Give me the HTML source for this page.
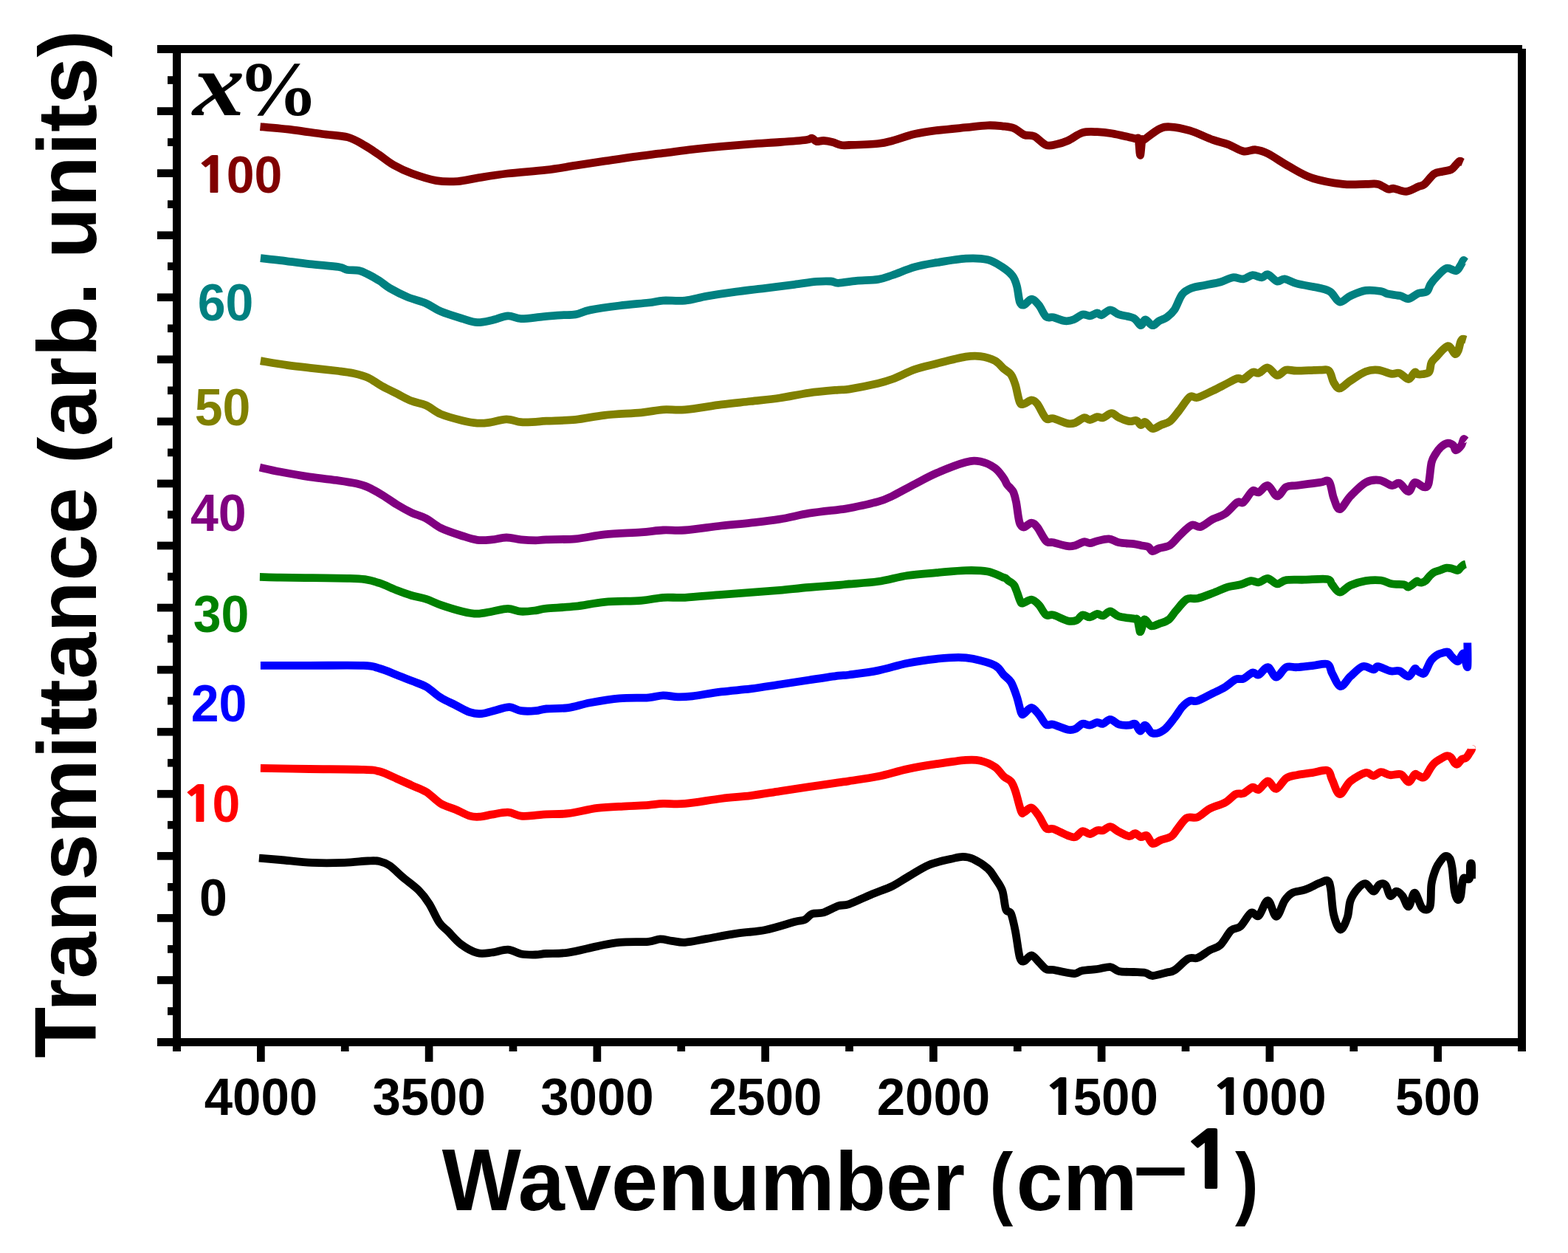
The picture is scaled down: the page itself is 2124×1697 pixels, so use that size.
<!DOCTYPE html>
<html><head><meta charset="utf-8"><title>FTIR spectra</title>
<style>html,body{margin:0;padding:0;background:#fff;}svg{display:block;}</style></head>
<body><svg width="2124" height="1697" viewBox="0 0 2124 1697">
<rect width="2124" height="1697" fill="#fff"/>
<g fill="#000">
<rect x="213" y="61" width="1849" height="11"/>
<rect x="234" y="61" width="11" height="1363"/>
<rect x="2056" y="66" width="11" height="1358"/>
<rect x="213" y="1406" width="1854" height="11"/>
<rect x="213" y="145.21" width="22" height="10.7"/>
<rect x="213" y="229.28" width="22" height="10.7"/>
<rect x="213" y="313.34" width="22" height="10.7"/>
<rect x="213" y="397.40" width="22" height="10.7"/>
<rect x="213" y="481.46" width="22" height="10.7"/>
<rect x="213" y="565.52" width="22" height="10.7"/>
<rect x="213" y="649.59" width="22" height="10.7"/>
<rect x="213" y="733.65" width="22" height="10.7"/>
<rect x="213" y="817.71" width="22" height="10.7"/>
<rect x="213" y="901.77" width="22" height="10.7"/>
<rect x="213" y="985.84" width="22" height="10.7"/>
<rect x="213" y="1069.90" width="22" height="10.7"/>
<rect x="213" y="1153.96" width="22" height="10.7"/>
<rect x="213" y="1238.03" width="22" height="10.7"/>
<rect x="213" y="1322.09" width="22" height="10.7"/>
<rect x="227" y="103.18" width="8" height="10.7"/>
<rect x="227" y="187.24" width="8" height="10.7"/>
<rect x="227" y="271.31" width="8" height="10.7"/>
<rect x="227" y="355.37" width="8" height="10.7"/>
<rect x="227" y="439.43" width="8" height="10.7"/>
<rect x="227" y="523.49" width="8" height="10.7"/>
<rect x="227" y="607.56" width="8" height="10.7"/>
<rect x="227" y="691.62" width="8" height="10.7"/>
<rect x="227" y="775.68" width="8" height="10.7"/>
<rect x="227" y="859.74" width="8" height="10.7"/>
<rect x="227" y="943.81" width="8" height="10.7"/>
<rect x="227" y="1027.87" width="8" height="10.7"/>
<rect x="227" y="1111.93" width="8" height="10.7"/>
<rect x="227" y="1195.99" width="8" height="10.7"/>
<rect x="227" y="1280.06" width="8" height="10.7"/>
<rect x="227" y="1364.12" width="8" height="10.7"/>
<rect x="348.02" y="1416" width="10.7" height="22"/>
<rect x="575.77" y="1416" width="10.7" height="22"/>
<rect x="803.52" y="1416" width="10.7" height="22"/>
<rect x="1031.28" y="1416" width="10.7" height="22"/>
<rect x="1259.03" y="1416" width="10.7" height="22"/>
<rect x="1486.78" y="1416" width="10.7" height="22"/>
<rect x="1714.53" y="1416" width="10.7" height="22"/>
<rect x="1942.28" y="1416" width="10.7" height="22"/>
<rect x="461.90" y="1416" width="10.7" height="8"/>
<rect x="689.65" y="1416" width="10.7" height="8"/>
<rect x="917.40" y="1416" width="10.7" height="8"/>
<rect x="1145.15" y="1416" width="10.7" height="8"/>
<rect x="1372.90" y="1416" width="10.7" height="8"/>
<rect x="1600.65" y="1416" width="10.7" height="8"/>
<rect x="1828.40" y="1416" width="10.7" height="8"/>
</g>
<text transform="translate(353.38,1510) scale(1,1.03)" text-anchor="middle" font-family="Liberation Sans, Arial, sans-serif" font-weight="bold" font-size="69">4000</text>
<text transform="translate(581.12,1510) scale(1,1.03)" text-anchor="middle" font-family="Liberation Sans, Arial, sans-serif" font-weight="bold" font-size="69">3500</text>
<text transform="translate(808.88,1510) scale(1,1.03)" text-anchor="middle" font-family="Liberation Sans, Arial, sans-serif" font-weight="bold" font-size="69">3000</text>
<text transform="translate(1036.62,1510) scale(1,1.03)" text-anchor="middle" font-family="Liberation Sans, Arial, sans-serif" font-weight="bold" font-size="69">2500</text>
<text transform="translate(1264.38,1510) scale(1,1.03)" text-anchor="middle" font-family="Liberation Sans, Arial, sans-serif" font-weight="bold" font-size="69">2000</text>
<text transform="translate(1453.75,1510) scale(1,1.03)" font-family="Liberation Sans, Arial, sans-serif" font-weight="bold" font-size="69">500</text>
<text transform="translate(1413.34,1510) scale(1.222,1.000)" fill="#000" font-family="NanumGothic, Liberation Sans, sans-serif" font-weight="800" font-size="65">1</text>
<text transform="translate(1681.50,1510) scale(1,1.03)" font-family="Liberation Sans, Arial, sans-serif" font-weight="bold" font-size="69">000</text>
<text transform="translate(1640.34,1510) scale(1.222,1.000)" fill="#000" font-family="NanumGothic, Liberation Sans, sans-serif" font-weight="800" font-size="65">1</text>
<text transform="translate(1947.62,1510) scale(1,1.03)" text-anchor="middle" font-family="Liberation Sans, Arial, sans-serif" font-weight="bold" font-size="69">500</text>
<text transform="translate(306.71,260.5) scale(1,1.04)" fill="#800000" font-family="Liberation Sans, Arial, sans-serif" font-weight="bold" font-size="68">00</text>
<text transform="translate(264.34,260.5) scale(1.222,1.000)" fill="#800000" font-family="NanumGothic, Liberation Sans, sans-serif" font-weight="800" font-size="65">1</text>
<text transform="translate(267.70,433.5) scale(1,1.04)" fill="#008080" font-family="Liberation Sans, Arial, sans-serif" font-weight="bold" font-size="68">60</text>
<text transform="translate(263.80,575.5) scale(1,1.04)" fill="#808000" font-family="Liberation Sans, Arial, sans-serif" font-weight="bold" font-size="68">50</text>
<text transform="translate(257.90,718.5) scale(1,1.04)" fill="#800080" font-family="Liberation Sans, Arial, sans-serif" font-weight="bold" font-size="68">40</text>
<text transform="translate(261.80,856) scale(1,1.04)" fill="#008000" font-family="Liberation Sans, Arial, sans-serif" font-weight="bold" font-size="68">30</text>
<text transform="translate(258.80,977) scale(1,1.04)" fill="#0000FF" font-family="Liberation Sans, Arial, sans-serif" font-weight="bold" font-size="68">20</text>
<text transform="translate(287.61,1112.5) scale(1,1.04)" fill="#FF0000" font-family="Liberation Sans, Arial, sans-serif" font-weight="bold" font-size="68">0</text>
<text transform="translate(245.24,1112.5) scale(1.222,1.000)" fill="#FF0000" font-family="NanumGothic, Liberation Sans, sans-serif" font-weight="800" font-size="65">1</text>
<text transform="translate(270.00,1239.5) scale(1,1.04)" fill="#000000" font-family="Liberation Sans, Arial, sans-serif" font-weight="bold" font-size="68">0</text>
<text transform="translate(260.95,155.8) scale(1.153,1)" font-family="Liberation Serif, Times New Roman, serif" font-weight="bold" font-style="italic" font-size="122">x</text>
<text transform="translate(322.37,155.5) scale(1.048,1)" font-family="Liberation Serif, Times New Roman, serif" font-weight="bold" font-size="104">%</text>
<text transform="translate(598.8,1639) scale(1,1.045)" font-family="Liberation Sans, Arial, sans-serif" font-weight="bold" font-size="113.5">W</text>
<text x="701.71" y="1639" font-family="Liberation Sans, Arial, sans-serif" font-weight="bold" font-size="113.5">avenumber</text>
<text transform="translate(1340.55,1637.5) scale(0.87,1)" font-family="Liberation Sans, Arial, sans-serif" font-weight="bold" font-size="109.5">(</text>
<text x="1376.61" y="1639" font-family="Liberation Sans, Arial, sans-serif" font-weight="bold" font-size="113.5">cm</text>
<text transform="translate(1535.54,1616.34) scale(1.154,0.945)" font-family="Liberation Sans, Arial, sans-serif" font-weight="bold" font-size="114">&#8211;</text>
<text transform="translate(1599.80,1610) scale(1.200,1.000)" font-family="NanumGothic, Liberation Sans, sans-serif" font-weight="800" font-size="105">1</text>
<text transform="translate(1673.10,1638) scale(0.87,1)" font-family="Liberation Sans, Arial, sans-serif" font-weight="bold" font-size="109.5">)</text>
<text transform="translate(130,1433) rotate(-90) scale(1,1.045)" font-family="Liberation Sans, Arial, sans-serif" font-weight="bold" font-size="113.5">T</text>
<text transform="translate(130,1369.94) rotate(-90)" textLength="1328.9" lengthAdjust="spacing" font-family="Liberation Sans, Arial, sans-serif" font-weight="bold" font-size="113.5">ransmittance <tspan font-size="109.5" dy="-1.2">(</tspan><tspan dy="1.2">arb. units</tspan><tspan font-size="109.5" dy="-1.2">)</tspan></text>
<path d="M352.5,171.6 C360.1,172.3 383.9,174.4 397.9,176.1 C411.9,177.8 424.3,179.9 436.5,181.5 C448.7,183.1 461.7,183.3 471.3,185.9 C480.9,188.5 487.3,193.3 494.4,197.3 C501.5,201.3 507.3,205.5 513.7,209.8 C520.1,214.2 525.6,219.2 533.0,223.4 C540.4,227.6 548.4,231.5 558.1,235.0 C567.8,238.5 580.7,242.8 591.0,244.6 C601.3,246.4 610.4,246.2 620.0,245.6 C629.6,244.9 637.6,242.5 648.9,240.7 C660.1,238.9 672.3,236.8 687.5,235.0 C702.7,233.2 724.7,231.9 740.0,230.1 C755.3,228.3 766.3,226.2 779.5,224.2 C792.7,222.2 805.9,220.2 819.1,218.2 C832.3,216.2 845.4,214.1 858.6,212.3 C871.8,210.5 885.0,209.0 898.2,207.3 C911.4,205.7 924.5,203.9 937.7,202.4 C950.9,200.9 964.1,199.6 977.3,198.4 C990.5,197.2 1003.6,196.1 1016.8,195.1 C1030.0,194.1 1043.9,193.4 1056.4,192.5 C1068.9,191.6 1084.8,190.4 1092.0,189.5 C1099.2,188.6 1097.6,186.9 1099.9,187.2 C1102.2,187.5 1103.2,190.9 1105.8,191.5 C1108.4,192.1 1112.1,190.3 1115.7,190.5 C1119.3,190.7 1123.6,191.5 1127.6,192.5 C1131.5,193.5 1135.7,195.8 1139.4,196.5 C1143.1,197.2 1141.7,196.8 1150.0,196.5 C1158.3,196.2 1179.6,195.5 1189.5,194.5 C1199.4,193.5 1201.0,192.7 1209.3,190.5 C1217.5,188.3 1229.1,183.9 1239.0,181.6 C1248.9,179.3 1257.1,178.2 1268.6,176.7 C1280.1,175.2 1296.7,173.8 1308.2,172.7 C1319.8,171.5 1329.7,170.1 1337.9,169.8 C1346.1,169.5 1351.7,170.2 1357.6,170.8 C1363.5,171.5 1368.5,171.7 1373.5,173.7 C1378.5,175.7 1382.7,180.8 1387.3,182.6 C1391.9,184.4 1396.1,182.3 1401.1,184.6 C1406.0,186.9 1412.0,194.7 1417.0,196.5 C1422.0,198.3 1425.9,196.5 1430.8,195.5 C1435.7,194.5 1440.7,193.1 1446.6,190.5 C1452.5,187.9 1459.8,181.7 1466.4,179.7 C1473.0,177.7 1479.6,178.5 1486.2,178.7 C1492.8,178.9 1497.4,179.2 1506.0,180.7 C1514.6,182.2 1531.6,186.3 1537.6,187.6 C1543.6,188.9 1540.8,184.7 1542.0,188.5 C1543.2,192.3 1543.7,210.1 1544.5,210.3 C1545.3,210.5 1546.2,193.0 1547.0,189.5 C1547.8,186.0 1545.6,191.9 1549.4,189.5 C1553.2,187.1 1564.1,177.8 1570.0,174.9 C1575.9,172.0 1577.9,171.5 1584.9,171.8 C1591.9,172.1 1602.1,174.0 1611.8,176.9 C1621.5,179.8 1634.3,186.3 1642.9,189.4 C1651.5,192.5 1656.7,193.0 1663.6,195.6 C1670.5,198.2 1678.1,203.7 1684.3,204.9 C1690.5,206.1 1695.4,202.3 1700.9,202.8 C1706.4,203.3 1709.8,204.2 1717.4,208.0 C1725.0,211.8 1736.5,220.1 1746.5,225.6 C1756.5,231.1 1765.4,237.2 1777.5,241.2 C1789.6,245.2 1806.9,248.0 1819.0,249.4 C1831.1,250.8 1842.1,249.4 1850.0,249.4 C1857.9,249.4 1861.6,248.3 1866.6,249.4 C1871.6,250.5 1876.4,255.1 1880.0,256.1 C1883.6,257.1 1884.2,254.8 1888.3,255.3 C1892.4,255.8 1899.3,259.8 1904.8,259.4 C1910.3,259.0 1917.2,254.5 1921.3,252.8 C1925.4,251.2 1925.9,252.4 1929.5,249.5 C1933.1,246.6 1938.6,238.4 1942.7,235.5 C1946.8,232.6 1950.5,233.2 1954.3,232.2 C1958.1,231.2 1962.8,231.2 1965.8,229.7 C1968.8,228.2 1970.5,225.0 1972.4,223.1 C1974.3,221.2 1975.9,218.7 1977.4,218.2 C1978.9,217.7 1980.8,219.7 1981.5,220.0" fill="none" stroke="#800000" stroke-width="10.8" stroke-linejoin="round" stroke-linecap="butt"/>
<path d="M352.9,349.7 C357.3,350.2 368.5,351.3 379.5,352.6 C390.5,353.9 405.9,356.1 419.1,357.6 C432.3,359.1 450.0,360.2 458.6,361.5 C467.2,362.8 465.9,364.7 470.5,365.5 C475.1,366.3 481.7,365.5 486.3,366.5 C490.9,367.5 493.6,369.1 498.2,371.4 C502.8,373.7 509.1,377.2 514.0,380.3 C519.0,383.4 521.6,386.6 527.9,390.2 C534.2,393.8 543.4,398.6 551.6,402.1 C559.8,405.6 569.7,407.7 577.3,411.0 C584.9,414.3 588.9,418.4 597.1,421.8 C605.3,425.2 618.5,429.2 626.7,431.7 C634.9,434.2 639.9,436.4 646.5,436.7 C653.1,437.0 659.4,435.2 666.3,433.7 C673.2,432.2 681.4,428.1 688.0,427.8 C694.6,427.5 697.9,431.5 705.8,431.7 C713.7,431.9 726.5,429.6 735.5,428.8 C744.5,428.0 752.7,427.3 760.0,426.8 C767.3,426.3 773.0,427.0 779.5,425.9 C786.0,424.8 789.4,421.9 799.3,419.9 C809.2,417.9 825.7,415.6 838.9,414.0 C852.1,412.4 868.5,411.1 878.4,410.0 C888.3,408.9 890.0,407.6 898.2,407.1 C906.5,406.6 918.0,408.1 927.9,407.1 C937.8,406.1 946.0,403.1 957.5,401.1 C969.0,399.1 983.9,397.0 997.1,395.2 C1010.3,393.4 1023.4,391.9 1036.6,390.3 C1049.8,388.7 1064.7,386.8 1076.2,385.3 C1087.7,383.8 1097.6,382.1 1105.8,381.4 C1114.0,380.7 1120.6,380.7 1125.6,381.0 C1130.5,381.3 1129.8,383.4 1135.5,383.3 C1141.2,383.2 1151.0,381.2 1160.0,380.4 C1169.0,379.6 1181.3,379.7 1189.5,378.4 C1197.7,377.1 1201.0,375.3 1209.3,372.5 C1217.5,369.7 1229.1,364.4 1239.0,361.6 C1248.9,358.8 1257.1,357.6 1268.6,355.7 C1280.1,353.8 1296.7,350.8 1308.2,350.1 C1319.8,349.4 1329.7,349.8 1337.9,351.7 C1346.1,353.6 1352.0,358.0 1357.6,361.6 C1363.2,365.2 1368.2,369.2 1371.5,373.5 C1374.8,377.8 1375.8,381.4 1377.4,387.3 C1379.1,393.2 1379.8,404.7 1381.4,409.0 C1383.1,413.3 1384.7,413.6 1387.3,413.0 C1389.9,412.4 1393.9,405.1 1397.2,405.1 C1400.5,405.1 1403.8,409.1 1407.1,413.0 C1410.4,416.9 1413.7,426.0 1417.0,428.8 C1420.3,431.6 1422.5,428.8 1426.8,429.8 C1431.1,430.8 1438.1,434.2 1442.7,434.7 C1447.3,435.2 1450.5,434.3 1454.5,432.8 C1458.5,431.3 1462.8,426.7 1466.4,425.9 C1470.0,425.1 1473.0,428.1 1476.3,427.8 C1479.6,427.5 1483.6,424.1 1486.2,423.9 C1488.8,423.7 1489.1,427.5 1492.1,426.8 C1495.1,426.1 1500.0,420.0 1504.0,419.9 C1508.0,419.8 1510.5,424.1 1515.8,425.9 C1521.1,427.7 1530.6,428.3 1535.6,430.8 C1540.5,433.3 1542.9,440.4 1545.5,440.7 C1548.1,441.0 1548.8,432.8 1551.4,432.8 C1554.0,432.8 1558.2,440.4 1561.3,440.7 C1564.4,441.0 1566.8,436.5 1570.0,434.7 C1573.2,432.9 1577.2,432.3 1580.7,429.7 C1584.2,427.1 1587.6,424.5 1591.1,419.3 C1594.5,414.1 1597.6,403.4 1601.4,398.6 C1605.2,393.8 1608.7,392.4 1613.9,390.3 C1619.1,388.2 1626.0,387.6 1632.5,386.2 C1639.0,384.8 1647.0,383.7 1653.2,382.0 C1659.4,380.3 1664.6,376.5 1669.8,375.8 C1675.0,375.1 1679.8,378.4 1684.3,377.9 C1688.8,377.4 1692.5,373.0 1696.7,372.7 C1700.9,372.4 1705.8,376.0 1709.2,375.8 C1712.7,375.6 1714.0,370.8 1717.4,371.7 C1720.9,372.6 1726.1,380.0 1729.9,381.0 C1733.7,382.0 1735.7,377.4 1740.2,377.9 C1744.7,378.4 1748.8,382.0 1756.8,384.1 C1764.8,386.2 1780.3,388.4 1787.9,390.3 C1795.5,392.2 1797.9,392.4 1802.4,395.5 C1806.9,398.6 1810.3,408.1 1814.8,409.0 C1819.3,409.9 1823.4,403.3 1829.3,400.7 C1835.2,398.1 1843.1,394.4 1850.0,393.4 C1856.9,392.4 1865.7,393.7 1870.7,394.5 C1875.7,395.3 1875.7,397.1 1880.0,398.1 C1884.3,399.1 1891.8,399.5 1896.5,400.6 C1901.2,401.7 1904.0,405.2 1908.1,404.7 C1912.2,404.1 1917.2,398.9 1921.3,397.3 C1925.4,395.7 1930.0,396.9 1932.8,394.8 C1935.5,392.7 1935.6,388.2 1937.8,384.9 C1940.0,381.6 1942.4,378.6 1946.0,375.0 C1949.6,371.4 1954.8,364.8 1959.2,363.4 C1963.6,362.0 1969.1,367.5 1972.4,366.7 C1975.7,365.9 1977.3,360.9 1979.0,358.5 C1980.7,356.1 1981.2,353.1 1982.3,352.5 C1983.4,351.9 1985.0,354.8 1985.6,355.2" fill="none" stroke="#008080" stroke-width="10.8" stroke-linejoin="round" stroke-linecap="butt"/>
<path d="M352.9,488.7 C359.0,489.7 377.7,493.0 389.4,494.6 C401.1,496.2 411.5,497.3 423.0,498.6 C434.5,499.9 449.4,501.4 458.6,502.5 C467.8,503.6 471.8,504.0 478.4,505.5 C485.0,507.0 491.6,508.4 498.2,511.4 C504.8,514.4 511.4,519.7 518.0,523.3 C524.6,526.9 531.1,529.9 537.7,533.2 C544.3,536.5 550.9,540.5 557.5,543.1 C564.1,545.7 570.7,546.0 577.3,549.0 C583.9,552.0 588.9,557.4 597.1,560.9 C605.3,564.4 618.5,567.7 626.7,569.7 C634.9,571.7 640.6,572.7 646.5,573.1 C652.4,573.5 655.7,573.2 662.3,572.3 C668.9,571.4 678.8,567.9 686.0,567.8 C693.2,567.7 699.2,571.1 705.8,571.7 C712.4,572.3 719.9,571.5 725.6,571.3 C731.3,571.0 731.0,570.7 740.0,570.2 C749.0,569.7 766.3,569.6 779.5,568.3 C792.7,567.0 804.3,563.9 819.1,562.3 C833.9,560.7 855.3,560.0 868.5,558.8 C881.7,557.5 888.3,555.5 898.2,554.8 C908.1,554.1 914.7,555.9 927.9,554.8 C941.1,553.6 962.5,549.8 977.3,547.9 C992.1,546.0 1003.6,545.0 1016.8,543.5 C1030.0,542.0 1043.2,540.9 1056.4,539.0 C1069.6,537.1 1082.7,533.9 1095.9,532.1 C1109.1,530.3 1126.5,528.9 1135.5,528.1 C1144.5,527.3 1141.0,528.6 1150.0,527.1 C1159.0,525.6 1179.6,521.5 1189.5,519.2 C1199.4,516.9 1201.0,516.4 1209.3,513.3 C1217.5,510.2 1229.1,503.9 1239.0,500.4 C1248.9,496.9 1257.1,495.4 1268.6,492.5 C1280.1,489.6 1298.3,484.8 1308.2,483.2 C1318.1,481.6 1321.4,481.7 1328.0,482.6 C1334.6,483.5 1342.4,485.8 1347.7,488.6 C1353.0,491.4 1356.0,496.3 1359.6,499.4 C1363.2,502.5 1366.9,503.7 1369.5,507.3 C1372.1,510.9 1373.4,514.9 1375.4,521.2 C1377.4,527.5 1379.4,540.6 1381.4,544.9 C1383.4,549.2 1384.7,547.4 1387.3,546.9 C1389.9,546.4 1394.2,542.0 1397.2,542.0 C1400.2,542.0 1401.8,542.8 1405.1,546.9 C1408.4,551.0 1413.4,563.4 1417.0,566.7 C1420.6,570.0 1421.9,565.6 1426.8,566.7 C1431.7,567.9 1441.6,572.6 1446.6,573.6 C1451.5,574.6 1452.9,573.9 1456.5,572.6 C1460.1,571.3 1465.1,566.4 1468.4,565.7 C1471.7,565.0 1473.3,568.8 1476.3,568.6 C1479.3,568.4 1483.2,565.2 1486.2,564.7 C1489.2,564.2 1490.8,566.5 1494.1,565.7 C1497.4,564.9 1502.3,559.7 1505.9,559.7 C1509.5,559.7 1511.8,563.9 1515.8,565.7 C1519.8,567.5 1525.7,570.0 1529.7,570.6 C1533.7,571.2 1537.0,568.8 1539.6,569.6 C1542.2,570.4 1543.5,575.3 1545.5,575.6 C1547.5,575.9 1548.8,570.8 1551.4,571.6 C1554.0,572.4 1557.8,579.8 1561.3,580.5 C1564.8,581.2 1568.5,577.4 1572.4,575.7 C1576.3,574.0 1580.8,573.8 1584.9,570.5 C1589.1,567.2 1592.8,561.5 1597.3,556.0 C1601.8,550.5 1607.6,540.3 1611.8,537.4 C1616.0,534.5 1617.0,539.8 1622.2,538.4 C1627.4,537.0 1636.7,532.0 1642.9,529.1 C1649.1,526.2 1653.9,523.6 1659.4,520.8 C1664.9,518.0 1671.8,513.7 1676.0,512.5 C1680.2,511.3 1680.8,514.9 1684.3,513.5 C1687.8,512.1 1693.2,505.6 1696.7,504.2 C1700.2,502.8 1701.5,506.3 1705.0,505.3 C1708.5,504.3 1713.2,497.5 1717.4,498.0 C1721.6,498.5 1725.8,507.9 1729.9,508.4 C1734.1,508.9 1737.8,502.1 1742.3,501.1 C1746.8,500.1 1749.2,502.2 1756.8,502.2 C1764.4,502.2 1780.7,501.1 1787.9,501.1 C1795.2,501.1 1797.2,499.4 1800.3,502.2 C1803.4,505.0 1804.1,513.7 1806.5,517.7 C1808.9,521.7 1811.0,526.4 1814.8,526.0 C1818.6,525.6 1823.4,519.4 1829.3,515.6 C1835.2,511.8 1843.8,505.6 1850.0,503.2 C1856.2,500.8 1860.7,500.6 1866.6,501.1 C1872.5,501.6 1880.5,505.6 1885.3,506.3 C1890.1,507.0 1891.8,504.1 1895.6,505.3 C1899.4,506.5 1904.5,513.7 1908.0,513.5 C1911.5,513.3 1914.3,505.3 1916.3,504.2 C1918.3,503.1 1918.3,506.4 1920.0,506.8 C1921.7,507.2 1923.8,507.3 1926.4,506.8 C1929.1,506.3 1933.8,506.4 1935.9,503.7 C1938.0,501.0 1937.3,494.4 1939.1,490.9 C1940.9,487.3 1944.0,485.2 1946.5,482.4 C1949.0,479.6 1951.5,476.3 1954.0,474.0 C1956.5,471.7 1959.5,469.0 1961.4,468.6 C1963.3,468.2 1964.0,470.0 1965.6,471.8 C1967.2,473.6 1969.3,479.0 1970.9,479.5 C1972.5,480.0 1974.0,477.7 1975.2,475.0 C1976.5,472.3 1977.4,465.9 1978.4,463.3 C1979.5,460.7 1980.3,459.6 1981.5,459.1 C1982.7,458.6 1985.1,460.0 1985.8,460.2" fill="none" stroke="#808000" stroke-width="10.8" stroke-linejoin="round" stroke-linecap="butt"/>
<path d="M351.9,633.0 C356.5,634.0 368.3,636.9 379.5,639.0 C390.7,641.1 405.9,643.9 419.1,645.9 C432.3,647.9 448.1,649.3 458.6,650.8 C469.2,652.3 475.8,653.3 482.4,654.8 C489.0,656.3 492.3,657.1 498.2,659.7 C504.1,662.3 511.4,666.6 518.0,670.6 C524.6,674.6 531.1,679.5 537.7,683.5 C544.3,687.5 550.9,691.2 557.5,694.3 C564.1,697.4 570.7,698.7 577.3,702.2 C583.9,705.7 588.9,711.1 597.1,715.1 C605.3,719.1 618.5,723.3 626.7,726.0 C634.9,728.7 639.9,730.5 646.5,731.3 C653.1,732.1 659.7,731.4 666.3,730.9 C672.9,730.4 679.4,728.0 686.0,728.0 C692.6,728.0 699.2,730.2 705.8,730.9 C712.4,731.5 719.9,731.9 725.6,731.9 C731.3,731.9 731.0,731.1 740.0,730.8 C749.0,730.4 766.3,730.9 779.5,729.8 C792.7,728.6 804.3,725.4 819.1,723.9 C833.9,722.4 855.3,721.9 868.5,720.9 C881.7,719.9 888.3,718.5 898.2,718.0 C908.1,717.5 914.7,719.0 927.9,718.0 C941.1,717.0 962.5,713.6 977.3,712.0 C992.1,710.4 1003.6,709.6 1016.8,708.1 C1030.0,706.6 1043.2,705.2 1056.4,703.1 C1069.6,701.0 1082.7,697.3 1095.9,695.2 C1109.1,693.1 1126.5,691.4 1135.5,690.3 C1144.5,689.1 1141.0,690.1 1150.0,688.3 C1159.0,686.5 1179.6,682.2 1189.5,679.4 C1199.4,676.6 1201.0,675.5 1209.3,671.5 C1217.5,667.5 1229.1,660.8 1239.0,655.7 C1248.9,650.6 1257.1,645.8 1268.6,640.8 C1280.1,635.8 1298.3,628.6 1308.2,626.0 C1318.1,623.4 1321.4,623.7 1328.0,625.0 C1334.6,626.3 1342.4,630.1 1347.7,633.9 C1353.0,637.7 1356.9,644.0 1359.6,647.7 C1362.3,651.4 1362.4,653.7 1364.0,656.0 C1365.6,658.3 1367.5,659.7 1369.0,661.5 C1370.5,663.3 1371.8,663.9 1373.0,667.0 C1374.2,670.1 1375.4,674.5 1376.5,680.0 C1377.6,685.5 1378.6,695.0 1379.5,700.0 C1380.4,705.0 1380.7,707.7 1382.0,710.0 C1383.3,712.3 1384.8,714.3 1387.3,714.0 C1389.8,713.7 1394.2,708.1 1397.2,708.1 C1400.2,708.1 1401.8,709.9 1405.1,714.0 C1408.4,718.1 1413.4,729.3 1417.0,732.8 C1420.6,736.3 1421.9,733.6 1426.8,734.8 C1431.7,735.9 1441.6,739.1 1446.6,739.7 C1451.5,740.4 1452.9,739.7 1456.5,738.7 C1460.1,737.7 1465.1,734.3 1468.4,733.8 C1471.7,733.3 1473.3,735.9 1476.3,735.7 C1479.3,735.5 1481.9,733.8 1486.2,732.8 C1490.5,731.8 1497.1,729.5 1502.0,729.8 C1506.9,730.1 1510.2,733.6 1515.8,734.8 C1521.4,735.9 1530.6,736.1 1535.6,736.7 C1540.5,737.4 1542.2,738.0 1545.5,738.7 C1548.8,739.4 1552.8,739.4 1555.4,740.7 C1558.0,742.0 1558.9,746.3 1561.3,746.6 C1563.7,746.9 1566.1,744.1 1570.0,742.7 C1573.9,741.3 1580.4,741.1 1584.9,738.3 C1589.5,735.5 1592.5,730.4 1597.3,725.9 C1602.1,721.4 1609.1,713.5 1613.9,711.4 C1618.7,709.3 1621.5,714.9 1626.3,713.5 C1631.1,712.1 1637.4,706.0 1642.9,703.1 C1648.4,700.2 1653.9,699.7 1659.4,695.9 C1664.9,692.1 1671.8,682.9 1676.0,680.3 C1680.2,677.7 1680.8,682.9 1684.3,680.3 C1687.8,677.7 1693.2,667.0 1696.7,664.8 C1700.2,662.5 1701.5,668.0 1705.0,666.8 C1708.5,665.6 1713.2,656.6 1717.4,657.5 C1721.6,658.4 1725.8,671.6 1729.9,672.0 C1734.1,672.4 1737.8,662.0 1742.3,659.6 C1746.8,657.2 1749.2,658.5 1756.8,657.5 C1764.4,656.5 1780.7,654.3 1787.9,653.4 C1795.2,652.5 1797.2,648.8 1800.3,652.3 C1803.4,655.8 1804.1,667.9 1806.5,674.1 C1808.9,680.3 1811.0,690.0 1814.8,689.6 C1818.6,689.2 1823.4,678.0 1829.3,672.0 C1835.2,666.0 1843.4,657.0 1850.0,653.4 C1856.6,649.8 1862.8,649.6 1868.7,650.3 C1874.6,651.0 1880.8,656.8 1885.3,657.5 C1889.8,658.2 1891.8,653.0 1895.6,654.4 C1899.4,655.8 1904.5,666.0 1908.0,665.8 C1911.5,665.6 1912.8,654.4 1916.3,653.4 C1919.8,652.4 1925.7,659.2 1928.8,659.6 C1931.9,660.0 1933.3,661.0 1935.0,655.5 C1936.7,650.0 1937.5,633.2 1939.1,626.5 C1940.7,619.8 1942.3,618.6 1944.4,615.1 C1946.5,611.6 1949.0,608.0 1951.8,605.5 C1954.6,603.0 1958.6,600.6 1961.4,600.2 C1964.2,599.9 1967.0,601.8 1968.8,603.4 C1970.6,605.0 1970.2,609.8 1972.0,609.8 C1973.8,609.8 1977.6,605.9 1979.4,603.4 C1981.2,600.9 1981.5,596.0 1982.6,594.9 C1983.7,593.8 1985.3,596.6 1985.8,597.0" fill="none" stroke="#800080" stroke-width="10.8" stroke-linejoin="round" stroke-linecap="butt"/>
<path d="M351.9,781.4 C356.5,781.5 367.6,781.9 379.5,782.1 C391.4,782.3 407.8,782.5 423.0,782.7 C438.2,782.9 458.6,783.0 470.5,783.3 C482.4,783.6 486.9,783.6 494.2,784.7 C501.4,785.8 506.8,787.2 514.0,789.7 C521.2,792.2 530.5,796.7 537.7,799.5 C545.0,802.3 550.9,804.5 557.5,806.5 C564.1,808.5 570.7,809.3 577.3,811.4 C583.9,813.5 588.9,816.5 597.1,819.3 C605.3,822.1 618.5,826.2 626.7,828.2 C634.9,830.2 639.9,831.2 646.5,831.2 C653.1,831.2 659.4,829.4 666.3,828.2 C673.2,827.1 681.4,824.3 688.0,824.3 C694.6,824.3 699.5,827.8 705.8,828.2 C712.1,828.6 719.9,827.5 725.6,826.8 C731.3,826.1 731.0,825.1 740.0,824.2 C749.0,823.3 766.3,822.7 779.5,821.2 C792.7,819.7 804.3,816.6 819.1,815.3 C833.9,814.0 855.3,814.3 868.5,813.3 C881.7,812.3 888.3,810.0 898.2,809.3 C908.1,808.6 914.7,809.9 927.9,809.3 C941.1,808.6 962.5,806.5 977.3,805.4 C992.1,804.2 1003.6,803.4 1016.8,802.4 C1030.0,801.4 1043.2,800.5 1056.4,799.4 C1069.6,798.2 1082.7,796.6 1095.9,795.5 C1109.1,794.4 1126.5,793.2 1135.5,792.5 C1144.5,791.8 1141.0,791.8 1150.0,791.0 C1159.0,790.2 1176.3,789.4 1189.5,787.5 C1202.7,785.6 1215.9,781.5 1229.1,779.5 C1242.3,777.5 1255.4,776.8 1268.6,775.6 C1281.8,774.5 1296.7,772.9 1308.2,772.6 C1319.8,772.3 1329.7,772.5 1337.9,774.0 C1346.1,775.5 1354.3,780.2 1357.6,781.5 C1360.9,782.8 1356.9,781.2 1357.6,781.5 C1358.3,781.8 1360.6,782.2 1362.0,783.0 C1363.4,783.8 1364.7,785.5 1366.0,786.5 C1367.3,787.5 1368.7,787.9 1370.0,789.0 C1371.3,790.1 1372.7,790.7 1374.0,793.0 C1375.3,795.3 1376.7,799.5 1378.0,803.0 C1379.3,806.5 1380.8,811.6 1382.0,814.0 C1383.2,816.4 1382.8,817.4 1385.3,817.1 C1387.8,816.8 1393.6,811.9 1397.2,812.2 C1400.8,812.5 1403.8,815.7 1407.1,819.1 C1410.4,822.5 1413.7,830.6 1417.0,832.9 C1420.3,835.2 1421.9,831.6 1426.8,832.9 C1431.7,834.2 1441.3,839.7 1446.6,840.9 C1451.9,842.1 1455.2,841.2 1458.5,839.9 C1461.8,838.6 1463.4,833.6 1466.4,832.9 C1469.4,832.2 1473.0,836.1 1476.3,835.9 C1479.6,835.6 1483.2,831.7 1486.2,831.4 C1489.2,831.1 1491.1,834.5 1494.1,833.9 C1497.1,833.3 1500.4,827.8 1504.0,828.0 C1507.6,828.2 1510.5,833.2 1515.8,834.9 C1521.1,836.5 1531.5,837.2 1535.6,837.9 C1539.7,838.6 1539.3,836.9 1540.5,838.9 C1541.7,840.9 1542.3,847.2 1543.0,850.0 C1543.7,852.8 1543.8,855.7 1544.5,855.7 C1545.2,855.7 1546.0,852.8 1547.0,850.0 C1548.0,847.2 1548.4,839.3 1550.4,838.9 C1552.5,838.5 1556.0,846.8 1559.3,847.8 C1562.6,848.8 1566.5,846.0 1570.4,844.6 C1574.3,843.2 1579.0,842.3 1582.8,839.4 C1586.6,836.5 1589.0,831.6 1593.1,827.0 C1597.2,822.4 1602.8,814.3 1607.6,811.5 C1612.4,808.7 1616.3,811.8 1622.2,810.4 C1628.1,809.0 1636.0,805.8 1642.9,803.2 C1649.8,800.6 1657.4,796.8 1663.6,794.9 C1669.8,793.0 1675.0,793.2 1680.2,791.8 C1685.4,790.4 1690.6,787.1 1694.7,786.6 C1698.8,786.1 1701.2,789.2 1705.0,788.7 C1708.8,788.2 1713.2,783.1 1717.4,783.5 C1721.6,783.9 1725.8,790.4 1729.9,790.8 C1734.1,791.1 1736.1,786.5 1742.3,785.6 C1748.5,784.7 1757.9,785.4 1767.2,785.2 C1776.5,785.0 1792.0,783.4 1798.2,784.5 C1804.4,785.6 1801.7,788.8 1804.5,791.8 C1807.3,794.8 1810.7,802.0 1814.8,802.2 C1818.9,802.4 1823.4,795.4 1829.3,792.8 C1835.2,790.2 1843.1,787.7 1850.0,786.6 C1856.9,785.5 1864.8,785.3 1870.7,786.0 C1876.6,786.7 1880.1,789.8 1885.3,790.8 C1890.5,791.8 1898.0,791.1 1901.8,791.8 C1905.6,792.5 1905.2,795.6 1908.0,794.9 C1910.8,794.2 1916.4,788.8 1918.4,787.6 C1920.4,786.4 1918.8,787.6 1920.0,787.9 C1921.2,788.1 1923.7,789.4 1925.6,789.1 C1927.5,788.9 1929.4,788.0 1931.3,786.4 C1933.2,784.8 1935.0,781.6 1936.9,779.7 C1938.8,777.8 1940.4,776.3 1942.6,775.1 C1944.8,773.9 1947.3,773.5 1950.1,772.5 C1952.9,771.5 1956.7,769.5 1959.5,769.1 C1962.3,768.7 1964.6,769.6 1967.1,770.2 C1969.6,770.8 1972.6,772.8 1974.6,772.5 C1976.5,772.2 1977.3,769.7 1978.8,768.4 C1980.2,767.1 1982.2,765.3 1983.3,764.6 C1984.4,763.9 1985.1,764.1 1985.5,764.0" fill="none" stroke="#008000" stroke-width="10.8" stroke-linejoin="round" stroke-linecap="butt"/>
<path d="M352.9,901.4 C363.9,901.4 395.9,901.4 419.1,901.4 C442.3,901.4 476.5,900.8 492.3,901.4 C508.1,902.0 506.4,903.2 514.0,905.3 C521.6,907.4 530.5,911.4 537.7,914.2 C545.0,917.0 550.9,919.5 557.5,922.1 C564.1,924.8 570.7,926.3 577.3,930.1 C583.9,933.9 590.5,940.8 597.1,944.9 C603.7,949.0 610.2,951.5 616.8,954.8 C623.4,958.1 630.7,962.7 636.6,964.7 C642.5,966.7 646.5,967.1 652.4,966.6 C658.3,966.1 665.9,963.2 672.2,961.7 C678.5,960.2 684.4,957.5 690.0,957.7 C695.6,957.9 699.9,961.9 705.8,962.7 C711.7,963.5 719.9,963.2 725.6,962.7 C731.3,962.2 732.6,960.7 740.0,960.0 C747.4,959.3 759.8,960.0 769.7,958.6 C779.6,957.2 787.8,953.8 799.3,951.7 C810.8,949.6 825.7,946.9 838.9,945.8 C852.1,944.6 868.5,945.5 878.4,944.8 C888.3,944.1 891.6,942.0 898.2,941.8 C904.8,941.6 911.4,943.6 918.0,943.8 C924.6,944.0 927.8,943.9 937.7,942.8 C947.6,941.6 964.1,938.5 977.3,936.9 C990.5,935.2 1003.6,934.5 1016.8,932.9 C1030.0,931.2 1043.2,929.0 1056.4,927.0 C1069.6,925.0 1082.7,923.0 1095.9,921.0 C1109.1,919.0 1126.5,916.3 1135.5,915.1 C1144.5,913.9 1141.0,915.2 1150.0,914.0 C1159.0,912.8 1176.3,910.7 1189.5,908.1 C1202.7,905.5 1215.9,900.8 1229.1,898.2 C1242.3,895.6 1257.1,893.6 1268.6,892.3 C1280.1,891.0 1290.0,890.3 1298.3,890.3 C1306.5,890.3 1309.9,890.5 1318.1,892.3 C1326.3,894.1 1340.8,897.6 1347.7,901.2 C1354.6,904.8 1356.0,910.2 1359.6,914.0 C1363.2,917.8 1366.5,918.9 1369.5,923.9 C1372.5,928.9 1375.1,936.8 1377.4,943.7 C1379.7,950.6 1381.7,961.6 1383.3,965.4 C1384.9,969.2 1385.0,967.5 1387.3,966.4 C1389.6,965.2 1393.9,958.3 1397.2,958.5 C1400.5,958.7 1403.8,963.6 1407.1,967.4 C1410.4,971.2 1413.7,978.9 1417.0,981.2 C1420.3,983.5 1421.9,980.0 1426.8,981.2 C1431.7,982.4 1441.6,987.2 1446.6,988.2 C1451.5,989.2 1453.2,988.5 1456.5,987.2 C1459.8,985.9 1463.1,981.1 1466.4,980.3 C1469.7,979.5 1473.0,982.5 1476.3,982.2 C1479.6,981.9 1483.2,978.6 1486.2,978.3 C1489.2,978.0 1491.1,981.0 1494.1,980.3 C1497.1,979.6 1500.4,974.1 1504.0,974.3 C1507.6,974.4 1511.5,979.9 1515.8,981.2 C1520.1,982.5 1526.1,982.4 1529.7,982.2 C1533.3,982.1 1535.1,979.0 1537.6,980.3 C1540.1,981.6 1542.2,989.8 1544.5,990.1 C1546.8,990.4 1548.6,981.7 1551.4,982.2 C1554.2,982.7 1557.1,992.0 1561.3,993.1 C1565.5,994.2 1571.6,992.1 1576.6,988.6 C1581.6,985.1 1587.0,977.2 1591.1,972.0 C1595.2,966.8 1598.0,961.3 1601.4,957.5 C1604.9,953.7 1608.3,950.6 1611.8,949.2 C1615.3,947.8 1617.0,950.9 1622.2,949.2 C1627.4,947.5 1636.7,942.0 1642.9,938.9 C1649.1,935.8 1654.2,933.7 1659.4,930.6 C1664.6,927.5 1669.8,922.1 1673.9,920.2 C1678.1,918.3 1680.5,920.8 1684.3,919.2 C1688.1,917.7 1693.2,911.8 1696.7,910.9 C1700.2,910.0 1701.5,915.2 1705.0,914.0 C1708.5,912.8 1713.4,903.2 1717.4,903.7 C1721.4,904.2 1724.7,917.1 1728.8,917.1 C1732.9,917.1 1737.6,905.9 1742.3,903.7 C1747.0,901.5 1750.9,904.1 1756.8,903.7 C1762.7,903.4 1770.6,902.3 1777.5,901.6 C1784.4,900.9 1793.7,897.8 1798.2,899.5 C1802.7,901.2 1801.6,907.0 1804.5,912.0 C1807.4,917.0 1811.7,928.9 1815.8,929.6 C1819.9,930.3 1824.3,920.6 1829.3,916.1 C1834.3,911.6 1840.7,904.2 1845.9,902.6 C1851.1,901.0 1857.0,906.8 1860.4,906.8 C1863.9,906.8 1862.8,902.3 1866.6,902.6 C1870.4,902.9 1878.4,907.8 1883.2,908.8 C1888.0,909.8 1891.5,907.6 1895.6,908.8 C1899.7,910.0 1904.5,916.6 1908.0,916.1 C1911.5,915.6 1914.3,907.0 1916.3,905.7 C1918.3,904.5 1918.0,907.5 1920.0,908.6 C1922.0,909.7 1926.2,912.8 1928.3,912.5 C1930.4,912.2 1930.9,909.3 1932.4,906.6 C1933.9,903.9 1935.6,899.0 1937.3,896.3 C1939.0,893.5 1940.8,891.8 1942.7,890.1 C1944.6,888.4 1946.8,886.9 1948.9,885.9 C1951.0,884.9 1953.0,884.4 1955.1,883.9 C1957.2,883.4 1959.6,882.4 1961.3,883.1 C1963.0,883.8 1963.7,886.1 1965.4,888.0 C1967.1,889.9 1969.9,893.0 1971.6,894.2 C1973.3,895.4 1974.3,896.4 1975.7,895.4 C1977.1,894.4 1978.6,889.6 1979.8,888.0 C1981.0,886.4 1981.4,883.5 1982.7,886.0 C1984.0,888.5 1987.0,905.9 1987.8,903.3 C1988.6,900.7 1987.8,876.0 1987.8,870.5" fill="none" stroke="#0000FF" stroke-width="10.8" stroke-linejoin="round" stroke-linecap="butt"/>
<path d="M352.9,1040.3 C363.9,1040.5 396.2,1041.2 419.1,1041.5 C442.0,1041.8 474.5,1041.8 490.3,1042.3 C506.1,1042.8 506.1,1042.7 514.0,1044.8 C521.9,1046.9 530.5,1051.6 537.7,1054.7 C545.0,1057.8 550.9,1060.6 557.5,1063.6 C564.1,1066.6 570.7,1068.4 577.3,1072.5 C583.9,1076.6 590.5,1084.3 597.1,1088.3 C603.7,1092.2 610.2,1093.4 616.8,1096.2 C623.4,1099.0 631.0,1103.4 636.6,1105.1 C642.2,1106.8 645.5,1106.4 650.5,1106.1 C655.5,1105.8 660.0,1104.2 666.3,1103.2 C672.5,1102.2 681.4,1099.9 688.0,1100.2 C694.6,1100.5 699.5,1104.4 705.8,1105.1 C712.1,1105.8 719.9,1104.6 725.6,1104.2 C731.3,1103.8 732.6,1103.3 740.0,1102.9 C747.4,1102.5 758.2,1103.1 769.7,1101.7 C781.2,1100.3 796.0,1096.1 809.2,1094.4 C822.4,1092.8 837.3,1092.5 848.8,1091.8 C860.3,1091.1 870.2,1091.0 878.4,1090.4 C886.6,1089.8 890.0,1088.7 898.2,1088.4 C906.5,1088.1 914.7,1089.6 927.9,1088.4 C941.1,1087.2 962.5,1083.3 977.3,1081.5 C992.1,1079.7 1003.6,1079.2 1016.8,1077.6 C1030.0,1075.9 1043.2,1073.6 1056.4,1071.6 C1069.6,1069.6 1082.7,1067.7 1095.9,1065.7 C1109.1,1063.7 1126.5,1061.1 1135.5,1059.8 C1144.5,1058.5 1141.0,1059.2 1150.0,1057.8 C1159.0,1056.4 1176.3,1054.2 1189.5,1051.5 C1202.7,1048.8 1215.9,1044.4 1229.1,1041.6 C1242.3,1038.8 1255.4,1036.7 1268.6,1034.7 C1281.8,1032.7 1298.3,1030.2 1308.2,1029.4 C1318.1,1028.7 1321.4,1028.7 1328.0,1030.2 C1334.6,1031.8 1342.4,1035.2 1347.7,1038.7 C1353.0,1042.2 1356.0,1048.2 1359.6,1051.5 C1363.2,1054.8 1366.9,1055.1 1369.5,1058.4 C1372.1,1061.7 1373.1,1064.5 1375.4,1071.3 C1377.7,1078.1 1381.3,1094.2 1383.3,1099.0 C1385.3,1103.8 1385.0,1100.8 1387.3,1100.0 C1389.6,1099.2 1393.9,1093.2 1397.2,1094.0 C1400.5,1094.8 1403.8,1100.3 1407.1,1104.9 C1410.4,1109.5 1413.7,1118.7 1417.0,1121.7 C1420.3,1124.7 1421.9,1121.1 1426.8,1122.7 C1431.7,1124.3 1441.6,1129.8 1446.6,1131.6 C1451.5,1133.4 1453.2,1134.6 1456.5,1133.6 C1459.8,1132.6 1463.1,1126.4 1466.4,1125.7 C1469.7,1125.0 1473.0,1129.8 1476.3,1129.6 C1479.6,1129.4 1483.2,1125.5 1486.2,1124.7 C1489.2,1123.9 1491.1,1125.5 1494.1,1124.7 C1497.1,1123.9 1500.4,1119.4 1504.0,1119.7 C1507.6,1120.0 1511.5,1124.6 1515.8,1126.7 C1520.1,1128.8 1526.1,1132.3 1529.7,1132.6 C1533.3,1132.9 1535.0,1128.4 1537.6,1128.6 C1540.2,1128.8 1542.9,1133.1 1545.5,1133.6 C1548.1,1134.1 1550.8,1130.1 1553.4,1131.6 C1556.0,1133.1 1558.1,1141.5 1561.3,1142.5 C1564.5,1143.5 1568.1,1139.5 1572.4,1137.8 C1576.7,1136.1 1583.1,1135.2 1586.9,1132.6 C1590.7,1130.0 1591.8,1126.3 1595.2,1122.2 C1598.7,1118.1 1603.1,1110.3 1607.6,1107.7 C1612.1,1105.1 1617.0,1108.8 1622.2,1106.7 C1627.4,1104.6 1632.5,1098.6 1638.7,1095.3 C1644.9,1092.0 1653.5,1090.3 1659.4,1087.0 C1665.3,1083.7 1669.8,1077.7 1673.9,1075.6 C1678.1,1073.5 1680.5,1076.1 1684.3,1074.6 C1688.1,1073.0 1693.2,1067.2 1696.7,1066.3 C1700.2,1065.4 1701.5,1070.8 1705.0,1069.4 C1708.5,1068.0 1713.4,1058.2 1717.4,1058.0 C1721.4,1057.8 1724.7,1069.1 1728.8,1068.4 C1732.9,1067.7 1737.6,1057.0 1742.3,1053.9 C1747.0,1050.8 1750.9,1050.9 1756.8,1049.7 C1762.7,1048.5 1770.6,1047.6 1777.5,1046.6 C1784.4,1045.6 1793.7,1042.0 1798.2,1043.5 C1802.7,1045.0 1801.7,1050.6 1804.5,1055.9 C1807.3,1061.2 1810.7,1075.2 1814.8,1075.6 C1818.9,1075.9 1823.4,1062.8 1829.3,1058.0 C1835.2,1053.2 1844.8,1047.8 1850.0,1046.6 C1855.2,1045.4 1857.0,1051.0 1860.4,1050.8 C1863.9,1050.6 1866.9,1045.8 1870.7,1045.6 C1874.5,1045.4 1878.7,1049.2 1883.2,1049.7 C1887.7,1050.2 1893.6,1047.2 1897.7,1048.7 C1901.8,1050.2 1904.9,1059.0 1908.0,1059.0 C1911.1,1059.0 1914.3,1050.2 1916.3,1048.7 C1918.3,1047.2 1918.1,1049.0 1920.0,1049.7 C1921.9,1050.5 1925.5,1053.2 1927.5,1053.2 C1929.5,1053.2 1930.4,1052.0 1932.0,1050.0 C1933.6,1048.0 1935.2,1044.1 1937.0,1041.4 C1938.8,1038.7 1940.4,1036.0 1942.6,1033.9 C1944.8,1031.8 1947.3,1030.3 1950.1,1028.6 C1952.9,1026.9 1957.0,1024.2 1959.5,1023.7 C1962.0,1023.2 1963.3,1023.9 1965.2,1025.6 C1967.1,1027.3 1969.2,1032.4 1970.8,1033.9 C1972.4,1035.4 1973.0,1035.7 1974.6,1034.7 C1976.2,1033.8 1978.4,1029.6 1980.3,1028.2 C1982.2,1026.8 1984.2,1027.8 1985.9,1026.4 C1987.6,1025.0 1989.2,1021.9 1990.5,1020.0 C1991.8,1018.1 1993.0,1016.0 1993.5,1015.0 C1994.0,1014.0 1993.6,1014.4 1993.6,1014.3" fill="none" stroke="#FF0000" stroke-width="10.8" stroke-linejoin="round" stroke-linecap="butt"/>
<path d="M350.9,1162.1 C355.7,1162.5 367.5,1163.5 379.5,1164.5 C391.5,1165.5 408.5,1167.8 423.0,1168.4 C437.5,1169.1 454.1,1168.8 466.6,1168.4 C479.1,1168.0 490.3,1166.3 498.2,1166.0 C506.1,1165.7 509.1,1165.3 514.0,1166.4 C519.0,1167.5 522.6,1168.8 527.9,1172.4 C533.2,1176.0 539.1,1182.6 545.7,1188.2 C552.3,1193.8 561.5,1200.1 567.4,1206.0 C573.3,1211.9 576.7,1216.5 581.3,1223.8 C585.9,1231.0 590.8,1243.2 595.1,1249.5 C599.4,1255.8 602.0,1256.5 607.0,1261.4 C612.0,1266.4 618.2,1274.3 624.8,1279.2 C631.4,1284.1 639.6,1288.8 646.5,1290.6 C653.4,1292.4 659.4,1290.8 666.3,1290.0 C673.2,1289.2 681.4,1285.8 688.0,1286.1 C694.6,1286.4 699.5,1290.8 705.8,1292.0 C712.1,1293.2 719.9,1293.1 725.6,1293.0 C731.3,1292.9 732.6,1292.0 740.0,1291.5 C747.4,1291.0 758.2,1291.8 769.7,1290.1 C781.2,1288.4 797.7,1283.9 809.2,1281.6 C820.7,1279.3 827.4,1277.3 838.9,1276.3 C850.4,1275.2 869.2,1276.0 878.4,1275.3 C887.6,1274.5 888.9,1272.0 894.2,1271.8 C899.5,1271.6 904.5,1273.5 910.1,1274.3 C915.7,1275.0 920.0,1276.8 927.9,1276.3 C935.8,1275.8 946.0,1273.4 957.5,1271.4 C969.0,1269.4 983.9,1266.4 997.1,1264.4 C1010.3,1262.4 1023.4,1262.1 1036.6,1259.5 C1049.8,1256.9 1067.3,1250.9 1076.2,1248.6 C1085.1,1246.3 1086.0,1247.5 1090.0,1245.7 C1094.0,1243.9 1095.6,1239.4 1099.9,1237.7 C1104.2,1236.0 1109.8,1237.6 1115.7,1235.8 C1121.6,1234.0 1129.8,1228.8 1135.5,1226.9 C1141.2,1225.0 1142.6,1227.1 1150.0,1224.6 C1157.4,1222.1 1169.8,1215.8 1179.7,1211.7 C1189.6,1207.6 1201.1,1203.8 1209.3,1199.8 C1217.5,1195.8 1220.8,1192.8 1229.1,1188.0 C1237.3,1183.2 1248.9,1175.3 1258.8,1171.2 C1268.7,1167.1 1280.8,1165.1 1288.4,1163.3 C1296.0,1161.5 1299.2,1160.3 1304.2,1160.3 C1309.2,1160.3 1312.5,1160.7 1318.1,1163.3 C1323.7,1165.9 1333.0,1171.8 1337.9,1176.1 C1342.8,1180.4 1344.4,1184.0 1347.7,1189.0 C1351.0,1194.0 1355.1,1198.7 1357.6,1205.8 C1360.1,1212.9 1360.6,1226.2 1362.6,1231.5 C1364.6,1236.8 1367.4,1232.5 1369.5,1237.4 C1371.6,1242.3 1373.4,1251.2 1375.4,1261.1 C1377.4,1271.0 1379.4,1289.9 1381.4,1296.7 C1383.4,1303.5 1384.7,1302.2 1387.3,1301.7 C1389.9,1301.2 1393.9,1293.6 1397.2,1293.8 C1400.5,1294.0 1403.8,1299.6 1407.1,1302.7 C1410.4,1305.8 1413.7,1310.7 1417.0,1312.5 C1420.3,1314.3 1421.9,1312.7 1426.8,1313.5 C1431.7,1314.3 1441.6,1316.7 1446.6,1317.5 C1451.5,1318.3 1453.2,1319.0 1456.5,1318.5 C1459.8,1318.0 1461.5,1315.5 1466.4,1314.5 C1471.4,1313.5 1479.9,1313.3 1486.2,1312.5 C1492.5,1311.7 1499.1,1309.1 1504.0,1309.6 C1508.9,1310.1 1510.5,1314.3 1515.8,1315.5 C1521.1,1316.7 1529.7,1316.2 1535.6,1316.5 C1541.5,1316.8 1547.1,1316.7 1551.4,1317.5 C1555.7,1318.3 1556.4,1321.6 1561.3,1321.5 C1566.2,1321.4 1575.7,1318.3 1580.7,1317.0 C1585.7,1315.7 1586.3,1317.0 1591.1,1313.9 C1595.9,1310.8 1604.5,1301.1 1609.7,1298.3 C1614.9,1295.5 1617.4,1299.2 1622.2,1297.3 C1627.0,1295.4 1633.5,1289.8 1638.7,1286.9 C1643.9,1284.0 1648.4,1284.2 1653.2,1279.7 C1658.0,1275.2 1663.2,1264.2 1667.7,1260.0 C1672.2,1255.8 1675.7,1258.8 1680.2,1254.8 C1684.7,1250.8 1690.6,1238.6 1694.7,1236.2 C1698.8,1233.8 1701.2,1243.1 1705.0,1240.3 C1708.8,1237.5 1713.4,1219.4 1717.4,1219.6 C1721.4,1219.8 1725.0,1241.3 1728.8,1241.3 C1732.6,1241.3 1736.6,1224.9 1740.2,1219.6 C1743.8,1214.2 1746.1,1211.6 1750.6,1209.2 C1755.1,1206.8 1761.0,1207.3 1767.2,1205.1 C1773.4,1202.9 1782.7,1197.9 1787.9,1195.8 C1793.1,1193.7 1795.8,1191.5 1798.2,1192.7 C1800.6,1193.9 1801.0,1195.4 1802.4,1203.0 C1803.8,1210.6 1804.3,1228.9 1806.5,1238.2 C1808.7,1247.5 1812.7,1258.3 1815.8,1259.0 C1818.9,1259.7 1823.0,1249.0 1825.2,1242.4 C1827.5,1235.8 1826.9,1226.2 1829.3,1219.6 C1831.7,1213.0 1836.2,1206.8 1839.7,1203.0 C1843.2,1199.2 1846.5,1196.1 1850.0,1196.8 C1853.5,1197.5 1857.3,1207.0 1860.4,1207.2 C1863.5,1207.4 1865.9,1199.2 1868.7,1197.8 C1871.5,1196.4 1874.6,1196.3 1877.0,1198.9 C1879.4,1201.5 1880.8,1212.0 1883.2,1213.4 C1885.6,1214.8 1888.7,1207.2 1891.5,1207.2 C1894.3,1207.2 1897.0,1210.0 1899.8,1213.4 C1902.5,1216.9 1905.2,1228.6 1908.0,1227.9 C1910.8,1227.2 1913.2,1208.9 1916.3,1209.2 C1919.4,1209.5 1923.2,1226.9 1926.7,1230.0 C1930.2,1233.1 1934.9,1233.4 1937.0,1227.9 C1939.1,1222.4 1937.7,1205.4 1939.1,1196.8 C1940.5,1188.2 1943.2,1181.3 1945.3,1176.1 C1947.4,1170.9 1949.4,1168.5 1951.5,1165.7 C1953.6,1162.9 1955.7,1160.0 1957.8,1159.5 C1959.9,1159.0 1962.5,1160.4 1964.0,1163.0 C1965.5,1165.6 1966.2,1170.5 1967.0,1175.0 C1967.8,1179.5 1967.9,1184.5 1968.5,1190.0 C1969.1,1195.5 1969.5,1203.2 1970.5,1208.0 C1971.5,1212.8 1973.2,1217.5 1974.5,1218.5 C1975.8,1219.5 1977.5,1217.4 1978.5,1214.0 C1979.5,1210.6 1979.8,1202.2 1980.5,1198.0 C1981.2,1193.8 1981.3,1190.3 1983.0,1189.0 C1984.7,1187.7 1989.1,1192.9 1990.5,1190.0 C1991.9,1187.1 1991.0,1174.6 1991.5,1171.5 C1992.0,1168.4 1993.2,1168.4 1993.5,1171.5 C1993.8,1174.6 1993.5,1186.9 1993.5,1190.0" fill="none" stroke="#000000" stroke-width="10.8" stroke-linejoin="round" stroke-linecap="butt"/>
</svg></body></html>
